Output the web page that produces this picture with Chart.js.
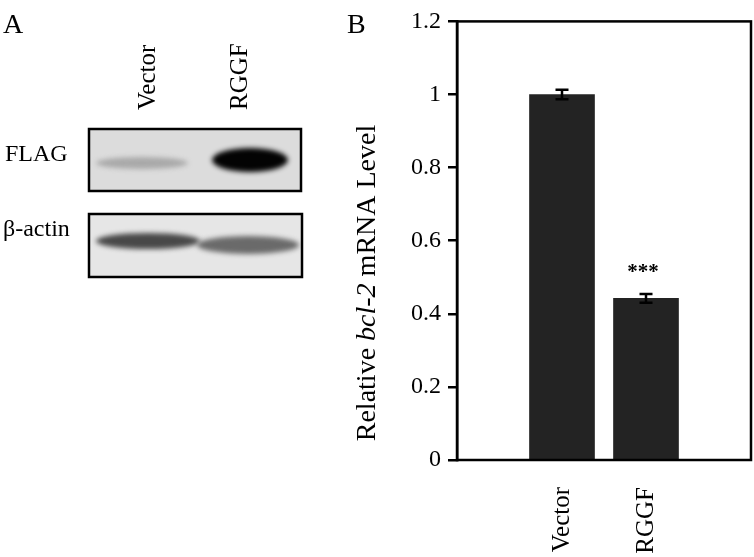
<!DOCTYPE html>
<html lang="en">
<head>
<meta charset="UTF-8">
<title>bcl-2 mRNA</title>
<script src="https://cdn.jsdelivr.net/npm/chart.js"></script>
<style>
  html, body { margin: 0; padding: 0; background: #fff; }
  #wrap { position: relative; width: 754px; height: 557px; }
</style>
</head>
<body>
<div id="wrap"><canvas id="chart"></canvas></div>
<script>
  // data
  var categories = ["Vector", "RGGF"];
  var values = [1.0, 0.442];
  var errors = [0.013, 0.012];
  var marks = ["", "***"];
  var yTicks = [0, 0.2, 0.4, 0.6, 0.8, 1, 1.2];

  var serif = "'Liberation Serif', 'Times New Roman', serif";

  // box + error bars + stars + y title
  var decor = {
    id: "decor",
    afterDatasetsDraw: function(chart) {
      var ctx = chart.ctx;
      var a = chart.chartArea;
      var y = chart.scales.y;
      var meta = chart.getDatasetMeta(0);
      ctx.save();
      ctx.strokeStyle = "#000";
      ctx.lineWidth = 2.5;
      ctx.strokeRect(a.left, a.top, a.right - a.left, a.bottom - a.top);

      meta.data.forEach(function(bar, i) {
        var x = bar.x;
        var top = y.getPixelForValue(values[i] + errors[i]);
        var bot = y.getPixelForValue(values[i] - errors[i]);
        ctx.beginPath();
        ctx.moveTo(x, top); ctx.lineTo(x, bot);
        ctx.moveTo(x - 6.5, top); ctx.lineTo(x + 6.5, top);
        ctx.moveTo(x - 6.5, bot); ctx.lineTo(x + 6.5, bot);
        ctx.stroke();
        if (marks[i]) {
          ctx.fillStyle = "#000";
          ctx.font = "bold 21px " + serif;
          ctx.textAlign = "center";
          ctx.textBaseline = "middle";
          ctx.fillText(marks[i], x - 3, top - 21);
        }
      });

      // y axis title with italic gene name
      ctx.translate(375, 283);
      ctx.rotate(-Math.PI / 2);
      ctx.fillStyle = "#000";
      ctx.textBaseline = "alphabetic";
      ctx.textAlign = "left";
      var parts = [["Relative ", "28px "], ["bcl-2", "italic 28px "], [" mRNA Level", "28px "]];
      var total = 0;
      parts.forEach(function(p) { ctx.font = p[1] + serif; total += ctx.measureText(p[0]).width; });
      var px = -total / 2;
      parts.forEach(function(p) {
        ctx.font = p[1] + serif;
        ctx.fillText(p[0], px, 0);
        px += ctx.measureText(p[0]).width;
      });
      ctx.restore();
    }
  };

  // panel A (blot picture) and panel letters
  var blot = {
    id: "blot",
    afterDraw: function(chart) {
      var ctx = chart.ctx;
      ctx.save();
      ctx.fillStyle = "#000";
      ctx.font = "28px " + serif;
      ctx.textBaseline = "alphabetic";
      ctx.fillText("A", 3, 33);
      ctx.fillText("B", 347, 33);

      ctx.font = "24px " + serif;
      ctx.fillText("FLAG", 5, 161);
      ctx.fillText("β-actin", 3, 236);

      ctx.font = "25px " + serif;
      ctx.textAlign = "left";
      [["Vector", 155], ["RGGF", 247]].forEach(function(l) {
        ctx.save();
        ctx.translate(l[1], 110);
        ctx.rotate(-Math.PI / 2);
        ctx.fillText(l[0], 0, 0);
        ctx.restore();
      });

      function box(x, y, w, h, bg, bands) {
        ctx.save();
        ctx.beginPath();
        ctx.rect(x, y, w, h);
        ctx.fillStyle = bg;
        ctx.fill();
        ctx.clip();
        ctx.filter = "blur(2.5px)";
        bands.forEach(function(b) {
          ctx.fillStyle = b[4];
          ctx.beginPath();
          ctx.ellipse(b[0], b[1], b[2], b[3], 0, 0, Math.PI * 2);
          ctx.fill();
        });
        ctx.restore();
        ctx.lineWidth = 2.5;
        ctx.strokeStyle = "#000";
        ctx.strokeRect(x, y, w, h);
      }
      box(89, 129, 212, 62, "#dcdcdc", [
        [142, 163, 46, 6, "rgba(120,120,120,0.5)"],
        [250, 160, 38, 12, "#030303"]
      ]);
      box(89, 214, 213, 63, "#e6e6e6", [
        [148, 241, 52, 8, "#484848"],
        [248, 245, 51, 9, "#6a6a6a"]
      ]);
      ctx.restore();
    }
  };

  new Chart(document.getElementById("chart"), {
    type: "bar",
    data: {
      datasets: [{
        data: categories.map(function(c, i) { return { x: i, y: values[i] }; }),
        backgroundColor: "#232323",
        borderWidth: 0,
        barThickness: 65
      }]
    },
    options: {
      responsive: true,
      maintainAspectRatio: false,
      animation: false,
      layout: { padding: { left: 0, right: 3, top: 10, bottom: 0 } },
      plugins: { legend: { display: false }, tooltip: { enabled: false } },
      scales: {
        x: {
          type: "linear",
          offset: false,
          min: -1.25,
          max: 2.25,
          afterFit: function(s) { s.height = 97; },
          afterBuildTicks: function(s) {
            s.ticks = categories.map(function(c, i) { return { value: i }; });
          },
          grid: { display: false, drawTicks: false },
          border: { display: false },
          ticks: {
            color: "#000",
            font: { family: serif, size: 25 },
            minRotation: 90,
            maxRotation: 90,
            padding: 27,
            callback: function(v) { return categories[v]; }
          }
        },
        y: {
          min: 0,
          max: 1.2,
          afterFit: function(s) { s.width = 457; },
          afterBuildTicks: function(s) {
            s.ticks = yTicks.map(function(v) { return { value: v }; });
          },
          grid: { drawOnChartArea: false, drawTicks: true, tickLength: 9, color: "#000", lineWidth: 2.5 },
          border: { display: true, color: "#000", width: 2.5 },
          ticks: {
            color: "#000",
            font: { family: serif, size: 24 },
            padding: 7,
            callback: function(v) { return String(v); }
          }
        }
      }
    },
    plugins: [decor, blot]
  });
</script>
</body>
</html>
